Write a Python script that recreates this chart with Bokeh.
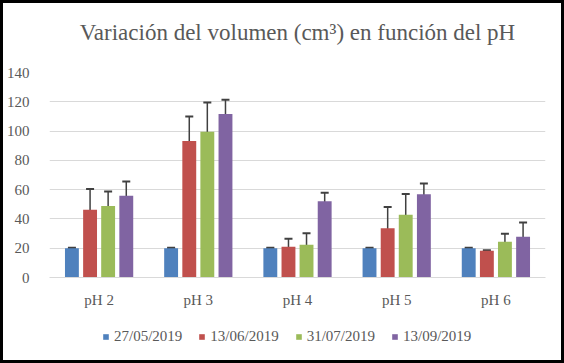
from bokeh.plotting import figure
from bokeh.layouts import column
from bokeh.models import ColumnDataSource, Whisker, TeeHead, Legend, LegendItem, FixedTicker, Range1d
from bokeh.transform import dodge
from bokeh.embed import file_html
from bokeh.resources import INLINE

categories = ["pH 2", "pH 3", "pH 4", "pH 5", "pH 6"]
dates = ["27/05/2019", "13/06/2019", "31/07/2019", "13/09/2019"]
v_2705 = [20, 20, 20, 20, 20]
v_1306 = [46.2, 93.3, 21.0, 33.7, 18.2]
v_3107 = [48.8, 99.5, 22.3, 42.8, 24.4]
v_1309 = [55.8, 111.7, 52.1, 56.9, 27.8]
e_2705 = [0.3, 0.3, 0.3, 0.3, 0.3]
e_1306 = [14.2, 16.7, 5.5, 14.5, 0.4]
e_3107 = [9.9, 20.0, 8.0, 14.3, 5.5]
e_1309 = [9.7, 9.7, 5.7, 7.3, 9.7]
y_ticks = [0, 20, 40, 60, 80, 100, 120, 140]

values = [v_2705, v_1306, v_3107, v_1309]
errors = [e_2705, e_1306, e_3107, e_1309]
colors = ["#4F81BD", "#C0504D", "#9BBB59", "#8064A2"]
offsets = [-0.274, -0.091, 0.091, 0.274]

TXT = "#595959"
FONT = "Liberation Serif"
W = 558

# title strip
tt = figure(width=W, height=59, x_range=Range1d(0, 1), y_range=Range1d(0, 1),
            title="Variación del volumen (cm³) en función del pH",
            x_axis_location=None, y_axis_location=None,
            output_backend="svg", toolbar_location=None,
            min_border_left=0, min_border_right=0, min_border_top=0, min_border_bottom=0)
tt.grid.visible = False
tt.outline_line_color = None
tt.title.align = "center"
tt.title.text_font = FONT
tt.title.text_font_size = "23px"
tt.title.text_color = TXT
tt.title.text_font_style = "normal"
tt.title.standoff = 36

# main chart
p = figure(x_range=categories, y_range=Range1d(0, 140), width=W, height=263,
           output_backend="svg", toolbar_location=None,
           min_border_left=44, min_border_right=16, min_border_top=10, min_border_bottom=48)
p.x_range.range_padding = 0

sources = []
for vals, errs, col, off in zip(values, errors, colors, offsets):
    src = ColumnDataSource(dict(ph=categories, v=vals,
                                up=[a + b for a, b in zip(vals, errs)],
                                lo=[a - b for a, b in zip(vals, errs)]))
    sources.append(src)
    p.vbar(x=dodge("ph", off, range=p.x_range), top="v", width=0.14, source=src,
           fill_color=col, line_color=None)
    w = Whisker(base=dodge("ph", off, range=p.x_range), upper="up", lower="lo", source=src,
                line_color="#404040", line_width=1.5,
                upper_head=TeeHead(size=8, line_color="#404040", line_width=2),
                lower_head=TeeHead(size=8, line_color="#404040", line_width=2))
    p.add_layout(w)

p.xgrid.grid_line_color = None
p.ygrid.grid_line_color = "#d9d9d9"
p.ygrid.grid_line_width = 1
p.outline_line_color = None

p.yaxis.ticker = FixedTicker(ticks=y_ticks)
p.yaxis.axis_line_color = None
p.yaxis.major_tick_line_color = None
p.yaxis.minor_tick_line_color = None
p.yaxis.major_label_text_font = FONT
p.yaxis.major_label_text_font_size = "15px"
p.yaxis.major_label_text_color = TXT
p.yaxis.major_label_standoff = 14

p.xaxis.axis_line_color = "#d9d9d9"
p.xaxis.axis_line_width = 1
p.xaxis.major_tick_line_color = None
p.xaxis.minor_tick_line_color = None
p.xaxis.major_label_text_font = FONT
p.xaxis.major_label_text_font_size = "15px"
p.xaxis.major_label_text_color = TXT
p.xaxis.major_label_standoff = 8

# legend strip below the chart (bars fall outside its view; only the legend shows)
lg = figure(width=W, height=35, x_range=categories, y_range=Range1d(1000, 1001),
            x_axis_location=None, y_axis_location=None,
            output_backend="svg", toolbar_location=None,
            min_border_left=0, min_border_right=0, min_border_top=0, min_border_bottom=0)
lg.grid.visible = False
lg.outline_line_color = None
items = []
for src, col, off, lab in zip(sources, colors, offsets, dates):
    r = lg.vbar(x=dodge("ph", off, range=lg.x_range), top="v", width=0.14, source=src,
                fill_color=col, line_color=None)
    items.append(LegendItem(label=lab, renderers=[r]))
legend = Legend(items=items, orientation="horizontal", location=(53, 15),
                glyph_width=7, glyph_height=7, label_standoff=5, spacing=16,
                label_text_font=FONT, label_text_font_size="15px", label_text_color=TXT,
                background_fill_alpha=0, border_line_color=None, padding=0, margin=0)
lg.add_layout(legend)

layout = column(tt, p, lg, spacing=0, margin=3)
layout.styles = {"outline": "3px solid black", "outline-offset": "0px"}

open("out.html", "w").write(file_html(layout, INLINE))
